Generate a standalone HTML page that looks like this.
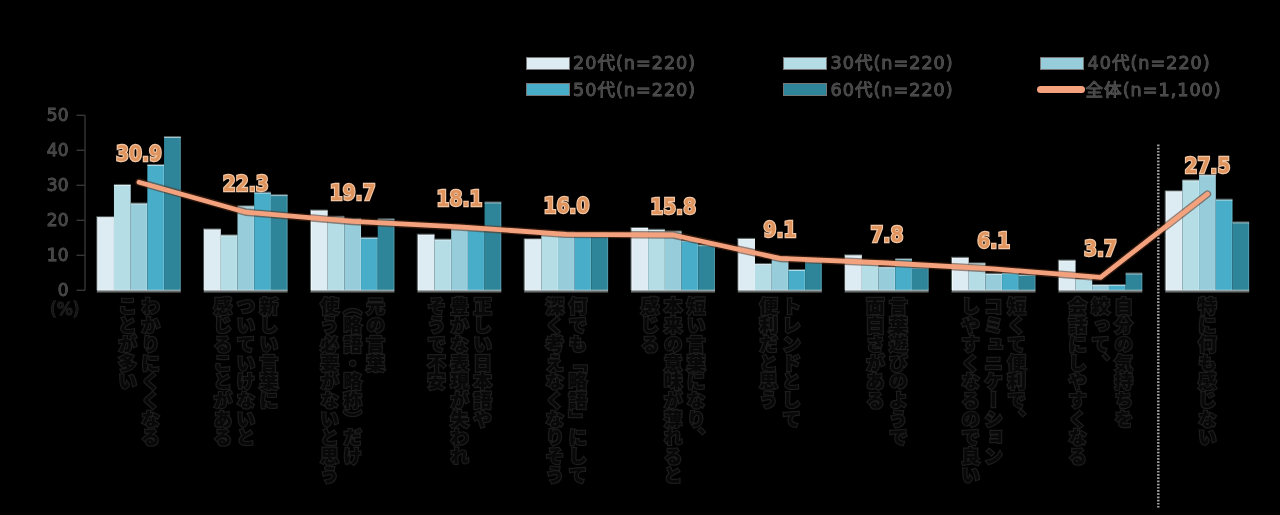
<!DOCTYPE html>
<html><head><meta charset="utf-8"><style>
html,body{margin:0;padding:0;background:#000;}
body{width:1280px;height:515px;position:relative;overflow:hidden;}
svg{position:absolute;left:0;top:0;}
.t{position:absolute;}
.yl{position:absolute;left:28.5px;width:40px;text-align:right;font:17px/22px "DejaVu Sans","Noto Sans CJK JP",sans-serif;color:#444;-webkit-text-stroke:0.9px #585858;paint-order:stroke fill;}
.pct{position:absolute;left:50px;top:298px;font:17px/22px "DejaVu Sans","Noto Sans CJK JP",sans-serif;color:#141414;-webkit-text-stroke:1.2px #282828;paint-order:stroke fill;}
.lt{position:absolute;letter-spacing:1px;font:17.6px/24px "DejaVu Sans","Noto Sans CJK JP",sans-serif;color:#474747;-webkit-text-stroke:0.9px #5c5c5c;paint-order:stroke fill;white-space:nowrap;}
.sw{position:absolute;width:44px;height:13px;box-sizing:border-box;border:1px solid #777;}
.lsw{position:absolute;width:48px;height:7px;border-radius:3.5px;background:#F4A27E;}
.vl{position:absolute;width:80px;text-align:center;font:bold 18.6px/22px "DejaVu Sans",sans-serif;color:#DF945E;-webkit-text-stroke:2.2px #F2C6A4;paint-order:stroke fill;transform:scaleY(1.1);}
.xl{position:absolute;top:297px;height:215px;writing-mode:vertical-rl;font:900 18.7px/23px "Liberation Sans","Noto Sans CJK JP",sans-serif;color:#080808;-webkit-text-stroke:2.4px #1d1d1d;paint-order:stroke fill;white-space:nowrap;filter:blur(0.3px);}
</style></head><body>
<svg width="1280" height="515" viewBox="0 0 1280 515">
<line x1="85" y1="115.3" x2="85" y2="290.3" stroke="#363636" stroke-width="1.4"/>
<line x1="76.5" y1="290.3" x2="85" y2="290.3" stroke="#363636" stroke-width="1.4"/>
<line x1="76.5" y1="255.3" x2="85" y2="255.3" stroke="#363636" stroke-width="1.4"/>
<line x1="76.5" y1="220.3" x2="85" y2="220.3" stroke="#363636" stroke-width="1.4"/>
<line x1="76.5" y1="185.3" x2="85" y2="185.3" stroke="#363636" stroke-width="1.4"/>
<line x1="76.5" y1="150.3" x2="85" y2="150.3" stroke="#363636" stroke-width="1.4"/>
<line x1="76.5" y1="115.3" x2="85" y2="115.3" stroke="#363636" stroke-width="1.4"/>
<rect x="97.25" y="217.15" width="16.70" height="73.15" fill="#DDEBF3"/>
<rect x="97.25" y="216.15" width="16.70" height="1" fill="rgba(110,125,125,0.75)"/>
<rect x="97.25" y="217.15" width="16.70" height="1" fill="rgba(255,255,255,0.55)"/>
<rect x="112.95" y="217.15" width="1" height="73.15" fill="rgba(255,255,255,0.18)"/>
<rect x="96.25" y="216.15" width="1" height="74.15" fill="rgba(110,125,125,0.75)"/>
<rect x="97.25" y="217.15" width="1" height="73.15" fill="rgba(255,255,255,0.6)"/>
<rect x="113.95" y="184.95" width="16.70" height="105.35" fill="#B4DDE6"/>
<rect x="113.95" y="183.95" width="16.70" height="1" fill="rgba(110,125,125,0.75)"/>
<rect x="113.95" y="184.95" width="16.70" height="1" fill="rgba(255,255,255,0.55)"/>
<rect x="129.65" y="184.95" width="1" height="105.35" fill="rgba(255,255,255,0.18)"/>
<rect x="130.65" y="203.50" width="16.70" height="86.80" fill="#97CCDB"/>
<rect x="130.65" y="202.50" width="16.70" height="1" fill="rgba(110,125,125,0.75)"/>
<rect x="130.65" y="203.50" width="16.70" height="1" fill="rgba(255,255,255,0.55)"/>
<rect x="146.35" y="203.50" width="1" height="86.80" fill="rgba(255,255,255,0.18)"/>
<rect x="147.35" y="165.00" width="16.70" height="125.30" fill="#47ADC8"/>
<rect x="147.35" y="164.00" width="16.70" height="1" fill="rgba(110,125,125,0.75)"/>
<rect x="147.35" y="165.00" width="16.70" height="1" fill="rgba(255,255,255,0.55)"/>
<rect x="163.05" y="165.00" width="1" height="125.30" fill="rgba(255,255,255,0.18)"/>
<rect x="164.05" y="137.00" width="16.70" height="153.30" fill="#2E8599"/>
<rect x="164.05" y="136.00" width="16.70" height="1" fill="rgba(110,125,125,0.75)"/>
<rect x="164.05" y="137.00" width="16.70" height="1" fill="rgba(255,255,255,0.55)"/>
<rect x="179.75" y="137.00" width="1" height="153.30" fill="rgba(255,255,255,0.18)"/>
<rect x="204.09" y="229.40" width="16.70" height="60.90" fill="#DDEBF3"/>
<rect x="204.09" y="228.40" width="16.70" height="1" fill="rgba(110,125,125,0.75)"/>
<rect x="204.09" y="229.40" width="16.70" height="1" fill="rgba(255,255,255,0.55)"/>
<rect x="219.79" y="229.40" width="1" height="60.90" fill="rgba(255,255,255,0.18)"/>
<rect x="203.09" y="228.40" width="1" height="61.90" fill="rgba(110,125,125,0.75)"/>
<rect x="204.09" y="229.40" width="1" height="60.90" fill="rgba(255,255,255,0.6)"/>
<rect x="220.79" y="235.35" width="16.70" height="54.95" fill="#B4DDE6"/>
<rect x="220.79" y="234.35" width="16.70" height="1" fill="rgba(110,125,125,0.75)"/>
<rect x="220.79" y="235.35" width="16.70" height="1" fill="rgba(255,255,255,0.55)"/>
<rect x="236.49" y="235.35" width="1" height="54.95" fill="rgba(255,255,255,0.18)"/>
<rect x="237.49" y="206.30" width="16.70" height="84.00" fill="#97CCDB"/>
<rect x="237.49" y="205.30" width="16.70" height="1" fill="rgba(110,125,125,0.75)"/>
<rect x="237.49" y="206.30" width="16.70" height="1" fill="rgba(255,255,255,0.55)"/>
<rect x="253.19" y="206.30" width="1" height="84.00" fill="rgba(255,255,255,0.18)"/>
<rect x="254.19" y="192.65" width="16.70" height="97.65" fill="#47ADC8"/>
<rect x="254.19" y="191.65" width="16.70" height="1" fill="rgba(110,125,125,0.75)"/>
<rect x="254.19" y="192.65" width="16.70" height="1" fill="rgba(255,255,255,0.55)"/>
<rect x="269.89" y="192.65" width="1" height="97.65" fill="rgba(255,255,255,0.18)"/>
<rect x="270.89" y="195.10" width="16.70" height="95.20" fill="#2E8599"/>
<rect x="270.89" y="194.10" width="16.70" height="1" fill="rgba(110,125,125,0.75)"/>
<rect x="270.89" y="195.10" width="16.70" height="1" fill="rgba(255,255,255,0.55)"/>
<rect x="286.59" y="195.10" width="1" height="95.20" fill="rgba(255,255,255,0.18)"/>
<rect x="310.93" y="210.50" width="16.70" height="79.80" fill="#DDEBF3"/>
<rect x="310.93" y="209.50" width="16.70" height="1" fill="rgba(110,125,125,0.75)"/>
<rect x="310.93" y="210.50" width="16.70" height="1" fill="rgba(255,255,255,0.55)"/>
<rect x="326.63" y="210.50" width="1" height="79.80" fill="rgba(255,255,255,0.18)"/>
<rect x="309.93" y="209.50" width="1" height="80.80" fill="rgba(110,125,125,0.75)"/>
<rect x="310.93" y="210.50" width="1" height="79.80" fill="rgba(255,255,255,0.6)"/>
<rect x="327.63" y="216.80" width="16.70" height="73.50" fill="#B4DDE6"/>
<rect x="327.63" y="215.80" width="16.70" height="1" fill="rgba(110,125,125,0.75)"/>
<rect x="327.63" y="216.80" width="16.70" height="1" fill="rgba(255,255,255,0.55)"/>
<rect x="343.33" y="216.80" width="1" height="73.50" fill="rgba(255,255,255,0.18)"/>
<rect x="344.33" y="218.90" width="16.70" height="71.40" fill="#97CCDB"/>
<rect x="344.33" y="217.90" width="16.70" height="1" fill="rgba(110,125,125,0.75)"/>
<rect x="344.33" y="218.90" width="16.70" height="1" fill="rgba(255,255,255,0.55)"/>
<rect x="360.03" y="218.90" width="1" height="71.40" fill="rgba(255,255,255,0.18)"/>
<rect x="361.03" y="237.80" width="16.70" height="52.50" fill="#47ADC8"/>
<rect x="361.03" y="236.80" width="16.70" height="1" fill="rgba(110,125,125,0.75)"/>
<rect x="361.03" y="237.80" width="16.70" height="1" fill="rgba(255,255,255,0.55)"/>
<rect x="376.73" y="237.80" width="1" height="52.50" fill="rgba(255,255,255,0.18)"/>
<rect x="377.73" y="219.25" width="16.70" height="71.05" fill="#2E8599"/>
<rect x="377.73" y="218.25" width="16.70" height="1" fill="rgba(110,125,125,0.75)"/>
<rect x="377.73" y="219.25" width="16.70" height="1" fill="rgba(255,255,255,0.55)"/>
<rect x="393.43" y="219.25" width="1" height="71.05" fill="rgba(255,255,255,0.18)"/>
<rect x="417.77" y="234.65" width="16.70" height="55.65" fill="#DDEBF3"/>
<rect x="417.77" y="233.65" width="16.70" height="1" fill="rgba(110,125,125,0.75)"/>
<rect x="417.77" y="234.65" width="16.70" height="1" fill="rgba(255,255,255,0.55)"/>
<rect x="433.47" y="234.65" width="1" height="55.65" fill="rgba(255,255,255,0.18)"/>
<rect x="416.77" y="233.65" width="1" height="56.65" fill="rgba(110,125,125,0.75)"/>
<rect x="417.77" y="234.65" width="1" height="55.65" fill="rgba(255,255,255,0.6)"/>
<rect x="434.47" y="239.55" width="16.70" height="50.75" fill="#B4DDE6"/>
<rect x="434.47" y="238.55" width="16.70" height="1" fill="rgba(110,125,125,0.75)"/>
<rect x="434.47" y="239.55" width="16.70" height="1" fill="rgba(255,255,255,0.55)"/>
<rect x="450.17" y="239.55" width="1" height="50.75" fill="rgba(255,255,255,0.18)"/>
<rect x="451.17" y="229.05" width="16.70" height="61.25" fill="#97CCDB"/>
<rect x="451.17" y="228.05" width="16.70" height="1" fill="rgba(110,125,125,0.75)"/>
<rect x="451.17" y="229.05" width="16.70" height="1" fill="rgba(255,255,255,0.55)"/>
<rect x="466.87" y="229.05" width="1" height="61.25" fill="rgba(255,255,255,0.18)"/>
<rect x="467.87" y="230.10" width="16.70" height="60.20" fill="#47ADC8"/>
<rect x="467.87" y="229.10" width="16.70" height="1" fill="rgba(110,125,125,0.75)"/>
<rect x="467.87" y="230.10" width="16.70" height="1" fill="rgba(255,255,255,0.55)"/>
<rect x="483.57" y="230.10" width="1" height="60.20" fill="rgba(255,255,255,0.18)"/>
<rect x="484.57" y="202.45" width="16.70" height="87.85" fill="#2E8599"/>
<rect x="484.57" y="201.45" width="16.70" height="1" fill="rgba(110,125,125,0.75)"/>
<rect x="484.57" y="202.45" width="16.70" height="1" fill="rgba(255,255,255,0.55)"/>
<rect x="500.27" y="202.45" width="1" height="87.85" fill="rgba(255,255,255,0.18)"/>
<rect x="524.61" y="239.20" width="16.70" height="51.10" fill="#DDEBF3"/>
<rect x="524.61" y="238.20" width="16.70" height="1" fill="rgba(110,125,125,0.75)"/>
<rect x="524.61" y="239.20" width="16.70" height="1" fill="rgba(255,255,255,0.55)"/>
<rect x="540.31" y="239.20" width="1" height="51.10" fill="rgba(255,255,255,0.18)"/>
<rect x="523.61" y="238.20" width="1" height="52.10" fill="rgba(110,125,125,0.75)"/>
<rect x="524.61" y="239.20" width="1" height="51.10" fill="rgba(255,255,255,0.6)"/>
<rect x="541.31" y="233.25" width="16.70" height="57.05" fill="#B4DDE6"/>
<rect x="541.31" y="232.25" width="16.70" height="1" fill="rgba(110,125,125,0.75)"/>
<rect x="541.31" y="233.25" width="16.70" height="1" fill="rgba(255,255,255,0.55)"/>
<rect x="557.01" y="233.25" width="1" height="57.05" fill="rgba(255,255,255,0.18)"/>
<rect x="558.01" y="232.55" width="16.70" height="57.75" fill="#97CCDB"/>
<rect x="558.01" y="231.55" width="16.70" height="1" fill="rgba(110,125,125,0.75)"/>
<rect x="558.01" y="232.55" width="16.70" height="1" fill="rgba(255,255,255,0.55)"/>
<rect x="573.71" y="232.55" width="1" height="57.75" fill="rgba(255,255,255,0.18)"/>
<rect x="574.71" y="233.25" width="16.70" height="57.05" fill="#47ADC8"/>
<rect x="574.71" y="232.25" width="16.70" height="1" fill="rgba(110,125,125,0.75)"/>
<rect x="574.71" y="233.25" width="16.70" height="1" fill="rgba(255,255,255,0.55)"/>
<rect x="590.41" y="233.25" width="1" height="57.05" fill="rgba(255,255,255,0.18)"/>
<rect x="591.41" y="233.25" width="16.70" height="57.05" fill="#2E8599"/>
<rect x="591.41" y="232.25" width="16.70" height="1" fill="rgba(110,125,125,0.75)"/>
<rect x="591.41" y="233.25" width="16.70" height="1" fill="rgba(255,255,255,0.55)"/>
<rect x="607.11" y="233.25" width="1" height="57.05" fill="rgba(255,255,255,0.18)"/>
<rect x="631.45" y="228.00" width="16.70" height="62.30" fill="#DDEBF3"/>
<rect x="631.45" y="227.00" width="16.70" height="1" fill="rgba(110,125,125,0.75)"/>
<rect x="631.45" y="228.00" width="16.70" height="1" fill="rgba(255,255,255,0.55)"/>
<rect x="647.15" y="228.00" width="1" height="62.30" fill="rgba(255,255,255,0.18)"/>
<rect x="630.45" y="227.00" width="1" height="63.30" fill="rgba(110,125,125,0.75)"/>
<rect x="631.45" y="228.00" width="1" height="62.30" fill="rgba(255,255,255,0.6)"/>
<rect x="648.15" y="229.75" width="16.70" height="60.55" fill="#B4DDE6"/>
<rect x="648.15" y="228.75" width="16.70" height="1" fill="rgba(110,125,125,0.75)"/>
<rect x="648.15" y="229.75" width="16.70" height="1" fill="rgba(255,255,255,0.55)"/>
<rect x="663.85" y="229.75" width="1" height="60.55" fill="rgba(255,255,255,0.18)"/>
<rect x="664.85" y="231.50" width="16.70" height="58.80" fill="#97CCDB"/>
<rect x="664.85" y="230.50" width="16.70" height="1" fill="rgba(110,125,125,0.75)"/>
<rect x="664.85" y="231.50" width="16.70" height="1" fill="rgba(255,255,255,0.55)"/>
<rect x="680.55" y="231.50" width="1" height="58.80" fill="rgba(255,255,255,0.18)"/>
<rect x="681.55" y="240.60" width="16.70" height="49.70" fill="#47ADC8"/>
<rect x="681.55" y="239.60" width="16.70" height="1" fill="rgba(110,125,125,0.75)"/>
<rect x="681.55" y="240.60" width="16.70" height="1" fill="rgba(255,255,255,0.55)"/>
<rect x="697.25" y="240.60" width="1" height="49.70" fill="rgba(255,255,255,0.18)"/>
<rect x="698.25" y="245.15" width="16.70" height="45.15" fill="#2E8599"/>
<rect x="698.25" y="244.15" width="16.70" height="1" fill="rgba(110,125,125,0.75)"/>
<rect x="698.25" y="245.15" width="16.70" height="1" fill="rgba(255,255,255,0.55)"/>
<rect x="713.95" y="245.15" width="1" height="45.15" fill="rgba(255,255,255,0.18)"/>
<rect x="738.29" y="238.85" width="16.70" height="51.45" fill="#DDEBF3"/>
<rect x="738.29" y="237.85" width="16.70" height="1" fill="rgba(110,125,125,0.75)"/>
<rect x="738.29" y="238.85" width="16.70" height="1" fill="rgba(255,255,255,0.55)"/>
<rect x="753.99" y="238.85" width="1" height="51.45" fill="rgba(255,255,255,0.18)"/>
<rect x="737.29" y="237.85" width="1" height="52.45" fill="rgba(110,125,125,0.75)"/>
<rect x="738.29" y="238.85" width="1" height="51.45" fill="rgba(255,255,255,0.6)"/>
<rect x="754.99" y="264.05" width="16.70" height="26.25" fill="#B4DDE6"/>
<rect x="754.99" y="263.05" width="16.70" height="1" fill="rgba(110,125,125,0.75)"/>
<rect x="754.99" y="264.05" width="16.70" height="1" fill="rgba(255,255,255,0.55)"/>
<rect x="770.69" y="264.05" width="1" height="26.25" fill="rgba(255,255,255,0.18)"/>
<rect x="771.69" y="257.05" width="16.70" height="33.25" fill="#97CCDB"/>
<rect x="771.69" y="256.05" width="16.70" height="1" fill="rgba(110,125,125,0.75)"/>
<rect x="771.69" y="257.05" width="16.70" height="1" fill="rgba(255,255,255,0.55)"/>
<rect x="787.39" y="257.05" width="1" height="33.25" fill="rgba(255,255,255,0.18)"/>
<rect x="788.39" y="270.00" width="16.70" height="20.30" fill="#47ADC8"/>
<rect x="788.39" y="269.00" width="16.70" height="1" fill="rgba(110,125,125,0.75)"/>
<rect x="788.39" y="270.00" width="16.70" height="1" fill="rgba(255,255,255,0.55)"/>
<rect x="804.09" y="270.00" width="1" height="20.30" fill="rgba(255,255,255,0.18)"/>
<rect x="805.09" y="261.95" width="16.70" height="28.35" fill="#2E8599"/>
<rect x="805.09" y="260.95" width="16.70" height="1" fill="rgba(110,125,125,0.75)"/>
<rect x="805.09" y="261.95" width="16.70" height="1" fill="rgba(255,255,255,0.55)"/>
<rect x="820.79" y="261.95" width="1" height="28.35" fill="rgba(255,255,255,0.18)"/>
<rect x="845.13" y="255.30" width="16.70" height="35.00" fill="#DDEBF3"/>
<rect x="845.13" y="254.30" width="16.70" height="1" fill="rgba(110,125,125,0.75)"/>
<rect x="845.13" y="255.30" width="16.70" height="1" fill="rgba(255,255,255,0.55)"/>
<rect x="860.83" y="255.30" width="1" height="35.00" fill="rgba(255,255,255,0.18)"/>
<rect x="844.13" y="254.30" width="1" height="36.00" fill="rgba(110,125,125,0.75)"/>
<rect x="845.13" y="255.30" width="1" height="35.00" fill="rgba(255,255,255,0.6)"/>
<rect x="861.83" y="262.30" width="16.70" height="28.00" fill="#B4DDE6"/>
<rect x="861.83" y="261.30" width="16.70" height="1" fill="rgba(110,125,125,0.75)"/>
<rect x="861.83" y="262.30" width="16.70" height="1" fill="rgba(255,255,255,0.55)"/>
<rect x="877.53" y="262.30" width="1" height="28.00" fill="rgba(255,255,255,0.18)"/>
<rect x="878.53" y="267.20" width="16.70" height="23.10" fill="#97CCDB"/>
<rect x="878.53" y="266.20" width="16.70" height="1" fill="rgba(110,125,125,0.75)"/>
<rect x="878.53" y="267.20" width="16.70" height="1" fill="rgba(255,255,255,0.55)"/>
<rect x="894.23" y="267.20" width="1" height="23.10" fill="rgba(255,255,255,0.18)"/>
<rect x="895.23" y="259.15" width="16.70" height="31.15" fill="#47ADC8"/>
<rect x="895.23" y="258.15" width="16.70" height="1" fill="rgba(110,125,125,0.75)"/>
<rect x="895.23" y="259.15" width="16.70" height="1" fill="rgba(255,255,255,0.55)"/>
<rect x="910.93" y="259.15" width="1" height="31.15" fill="rgba(255,255,255,0.18)"/>
<rect x="911.93" y="267.55" width="16.70" height="22.75" fill="#2E8599"/>
<rect x="911.93" y="266.55" width="16.70" height="1" fill="rgba(110,125,125,0.75)"/>
<rect x="911.93" y="267.55" width="16.70" height="1" fill="rgba(255,255,255,0.55)"/>
<rect x="927.63" y="267.55" width="1" height="22.75" fill="rgba(255,255,255,0.18)"/>
<rect x="951.97" y="257.75" width="16.70" height="32.55" fill="#DDEBF3"/>
<rect x="951.97" y="256.75" width="16.70" height="1" fill="rgba(110,125,125,0.75)"/>
<rect x="951.97" y="257.75" width="16.70" height="1" fill="rgba(255,255,255,0.55)"/>
<rect x="967.67" y="257.75" width="1" height="32.55" fill="rgba(255,255,255,0.18)"/>
<rect x="950.97" y="256.75" width="1" height="33.55" fill="rgba(110,125,125,0.75)"/>
<rect x="951.97" y="257.75" width="1" height="32.55" fill="rgba(255,255,255,0.6)"/>
<rect x="968.67" y="263.35" width="16.70" height="26.95" fill="#B4DDE6"/>
<rect x="968.67" y="262.35" width="16.70" height="1" fill="rgba(110,125,125,0.75)"/>
<rect x="968.67" y="263.35" width="16.70" height="1" fill="rgba(255,255,255,0.55)"/>
<rect x="984.37" y="263.35" width="1" height="26.95" fill="rgba(255,255,255,0.18)"/>
<rect x="985.37" y="273.85" width="16.70" height="16.45" fill="#97CCDB"/>
<rect x="985.37" y="272.85" width="16.70" height="1" fill="rgba(110,125,125,0.75)"/>
<rect x="985.37" y="273.85" width="16.70" height="1" fill="rgba(255,255,255,0.55)"/>
<rect x="1001.07" y="273.85" width="1" height="16.45" fill="rgba(255,255,255,0.18)"/>
<rect x="1002.07" y="273.15" width="16.70" height="17.15" fill="#47ADC8"/>
<rect x="1002.07" y="272.15" width="16.70" height="1" fill="rgba(110,125,125,0.75)"/>
<rect x="1002.07" y="273.15" width="16.70" height="1" fill="rgba(255,255,255,0.55)"/>
<rect x="1017.77" y="273.15" width="1" height="17.15" fill="rgba(255,255,255,0.18)"/>
<rect x="1018.77" y="274.90" width="16.70" height="15.40" fill="#2E8599"/>
<rect x="1018.77" y="273.90" width="16.70" height="1" fill="rgba(110,125,125,0.75)"/>
<rect x="1018.77" y="274.90" width="16.70" height="1" fill="rgba(255,255,255,0.55)"/>
<rect x="1034.47" y="274.90" width="1" height="15.40" fill="rgba(255,255,255,0.18)"/>
<rect x="1058.81" y="260.55" width="16.70" height="29.75" fill="#DDEBF3"/>
<rect x="1058.81" y="259.55" width="16.70" height="1" fill="rgba(110,125,125,0.75)"/>
<rect x="1058.81" y="260.55" width="16.70" height="1" fill="rgba(255,255,255,0.55)"/>
<rect x="1074.51" y="260.55" width="1" height="29.75" fill="rgba(255,255,255,0.18)"/>
<rect x="1057.81" y="259.55" width="1" height="30.75" fill="rgba(110,125,125,0.75)"/>
<rect x="1058.81" y="260.55" width="1" height="29.75" fill="rgba(255,255,255,0.6)"/>
<rect x="1075.51" y="279.10" width="16.70" height="11.20" fill="#B4DDE6"/>
<rect x="1075.51" y="278.10" width="16.70" height="1" fill="rgba(110,125,125,0.75)"/>
<rect x="1075.51" y="279.10" width="16.70" height="1" fill="rgba(255,255,255,0.55)"/>
<rect x="1091.21" y="279.10" width="1" height="11.20" fill="rgba(255,255,255,0.18)"/>
<rect x="1092.21" y="285.05" width="16.70" height="5.25" fill="#97CCDB"/>
<rect x="1092.21" y="284.05" width="16.70" height="1" fill="rgba(110,125,125,0.75)"/>
<rect x="1092.21" y="285.05" width="16.70" height="1" fill="rgba(255,255,255,0.55)"/>
<rect x="1107.91" y="285.05" width="1" height="5.25" fill="rgba(255,255,255,0.18)"/>
<rect x="1108.91" y="285.05" width="16.70" height="5.25" fill="#47ADC8"/>
<rect x="1108.91" y="284.05" width="16.70" height="1" fill="rgba(110,125,125,0.75)"/>
<rect x="1108.91" y="285.05" width="16.70" height="1" fill="rgba(255,255,255,0.55)"/>
<rect x="1124.61" y="285.05" width="1" height="5.25" fill="rgba(255,255,255,0.18)"/>
<rect x="1125.61" y="273.50" width="16.70" height="16.80" fill="#2E8599"/>
<rect x="1125.61" y="272.50" width="16.70" height="1" fill="rgba(110,125,125,0.75)"/>
<rect x="1125.61" y="273.50" width="16.70" height="1" fill="rgba(255,255,255,0.55)"/>
<rect x="1141.31" y="273.50" width="1" height="16.80" fill="rgba(255,255,255,0.18)"/>
<rect x="1165.65" y="191.25" width="16.70" height="99.05" fill="#DDEBF3"/>
<rect x="1165.65" y="190.25" width="16.70" height="1" fill="rgba(110,125,125,0.75)"/>
<rect x="1165.65" y="191.25" width="16.70" height="1" fill="rgba(255,255,255,0.55)"/>
<rect x="1181.35" y="191.25" width="1" height="99.05" fill="rgba(255,255,255,0.18)"/>
<rect x="1164.65" y="190.25" width="1" height="100.05" fill="rgba(110,125,125,0.75)"/>
<rect x="1165.65" y="191.25" width="1" height="99.05" fill="rgba(255,255,255,0.6)"/>
<rect x="1182.35" y="180.40" width="16.70" height="109.90" fill="#B4DDE6"/>
<rect x="1182.35" y="179.40" width="16.70" height="1" fill="rgba(110,125,125,0.75)"/>
<rect x="1182.35" y="180.40" width="16.70" height="1" fill="rgba(255,255,255,0.55)"/>
<rect x="1198.05" y="180.40" width="1" height="109.90" fill="rgba(255,255,255,0.18)"/>
<rect x="1199.05" y="175.15" width="16.70" height="115.15" fill="#97CCDB"/>
<rect x="1199.05" y="174.15" width="16.70" height="1" fill="rgba(110,125,125,0.75)"/>
<rect x="1199.05" y="175.15" width="16.70" height="1" fill="rgba(255,255,255,0.55)"/>
<rect x="1214.75" y="175.15" width="1" height="115.15" fill="rgba(255,255,255,0.18)"/>
<rect x="1215.75" y="199.65" width="16.70" height="90.65" fill="#47ADC8"/>
<rect x="1215.75" y="198.65" width="16.70" height="1" fill="rgba(110,125,125,0.75)"/>
<rect x="1215.75" y="199.65" width="16.70" height="1" fill="rgba(255,255,255,0.55)"/>
<rect x="1231.45" y="199.65" width="1" height="90.65" fill="rgba(255,255,255,0.18)"/>
<rect x="1232.45" y="222.40" width="16.70" height="67.90" fill="#2E8599"/>
<rect x="1232.45" y="221.40" width="16.70" height="1" fill="rgba(110,125,125,0.75)"/>
<rect x="1232.45" y="222.40" width="16.70" height="1" fill="rgba(255,255,255,0.55)"/>
<rect x="1248.15" y="222.40" width="1" height="67.90" fill="rgba(255,255,255,0.18)"/>
<rect x="97.2" y="289.7" width="83.5" height="1.4" fill="rgba(255,255,255,0.55)"/>
<rect x="96.8" y="291.1" width="84.0" height="1.4" fill="#6f7777"/>
<rect x="204.1" y="289.7" width="83.5" height="1.4" fill="rgba(255,255,255,0.55)"/>
<rect x="203.6" y="291.1" width="84.0" height="1.4" fill="#6f7777"/>
<rect x="310.9" y="289.7" width="83.5" height="1.4" fill="rgba(255,255,255,0.55)"/>
<rect x="310.4" y="291.1" width="84.0" height="1.4" fill="#6f7777"/>
<rect x="417.8" y="289.7" width="83.5" height="1.4" fill="rgba(255,255,255,0.55)"/>
<rect x="417.3" y="291.1" width="84.0" height="1.4" fill="#6f7777"/>
<rect x="524.6" y="289.7" width="83.5" height="1.4" fill="rgba(255,255,255,0.55)"/>
<rect x="524.1" y="291.1" width="84.0" height="1.4" fill="#6f7777"/>
<rect x="631.5" y="289.7" width="83.5" height="1.4" fill="rgba(255,255,255,0.55)"/>
<rect x="631.0" y="291.1" width="84.0" height="1.4" fill="#6f7777"/>
<rect x="738.3" y="289.7" width="83.5" height="1.4" fill="rgba(255,255,255,0.55)"/>
<rect x="737.8" y="291.1" width="84.0" height="1.4" fill="#6f7777"/>
<rect x="845.1" y="289.7" width="83.5" height="1.4" fill="rgba(255,255,255,0.55)"/>
<rect x="844.6" y="291.1" width="84.0" height="1.4" fill="#6f7777"/>
<rect x="952.0" y="289.7" width="83.5" height="1.4" fill="rgba(255,255,255,0.55)"/>
<rect x="951.5" y="291.1" width="84.0" height="1.4" fill="#6f7777"/>
<rect x="1058.8" y="289.7" width="83.5" height="1.4" fill="rgba(255,255,255,0.55)"/>
<rect x="1058.3" y="291.1" width="84.0" height="1.4" fill="#6f7777"/>
<rect x="1165.7" y="289.7" width="83.5" height="1.4" fill="rgba(255,255,255,0.55)"/>
<rect x="1165.2" y="291.1" width="84.0" height="1.4" fill="#6f7777"/>
<line x1="1158.3" y1="144.5" x2="1158.3" y2="507.5" stroke="#a4a4a4" stroke-width="2.4" stroke-dasharray="1.7 1.5"/>
<polyline points="139.0,182.2 245.8,212.2 352.7,221.4 459.5,226.9 566.4,234.3 673.2,235.0 780.0,258.4 886.9,263.0 993.7,268.9 1100.6,277.4 1207.4,194.1" fill="none" stroke="rgba(90,45,25,0.55)" stroke-width="7.5" stroke-linejoin="round" stroke-linecap="round"/>
<polyline points="139.0,182.2 245.8,212.2 352.7,221.4 459.5,226.9 566.4,234.3 673.2,235.0 780.0,258.4 886.9,263.0 993.7,268.9 1100.6,277.4 1207.4,194.1" fill="none" stroke="#F4A27E" stroke-width="4.8" stroke-linejoin="round" stroke-linecap="round"/>
</svg>
<div class="yl" style="top:279.3px">0</div>
<div class="yl" style="top:244.3px">10</div>
<div class="yl" style="top:209.3px">20</div>
<div class="yl" style="top:174.3px">30</div>
<div class="yl" style="top:139.3px">40</div>
<div class="yl" style="top:104.3px">50</div>
<div class="pct">(%)</div>
<div class="sw" style="left:525.5px;top:56.5px;background:#DDEBF3"></div>
<div class="lt" style="left:573.0px;top:51px">20代(n=220)</div>
<div class="sw" style="left:783px;top:56.5px;background:#B4DDE6"></div>
<div class="lt" style="left:830.5px;top:51px">30代(n=220)</div>
<div class="sw" style="left:1040px;top:56.5px;background:#97CCDB"></div>
<div class="lt" style="left:1087.5px;top:51px">40代(n=220)</div>
<div class="sw" style="left:525.5px;top:83.0px;background:#47ADC8"></div>
<div class="lt" style="left:573.0px;top:77.5px">50代(n=220)</div>
<div class="sw" style="left:783px;top:83.0px;background:#2E8599"></div>
<div class="lt" style="left:830.5px;top:77.5px">60代(n=220)</div>
<div class="lsw" style="left:1036.5px;top:86.0px"></div>
<div class="lt" style="left:1085.5px;top:77.5px">全体(n=1,100)</div>
<div class="xl" style="left:114.0px;width:46px">わかりにくくなる<br>ことが多い</div>
<div class="xl" style="left:209.3px;width:69px">新しい言葉に<br>ついていけないと<br>感じることがある</div>
<div class="xl" style="left:316.2px;width:69px">元の言葉<br>（略語・略称）だけ<br>使う必要がないと思う</div>
<div class="xl" style="left:423.0px;width:69px">正しい日本語や<br>豊かな表現が失われ<br>そうで不安</div>
<div class="xl" style="left:541.4px;width:46px">何でも「略語」にして<br>深く考えなくなりそう</div>
<div class="xl" style="left:636.7px;width:69px">短い言葉になり、<br>本来の意味が薄れると<br>感じる</div>
<div class="xl" style="left:755.0px;width:46px">トレンドとして<br>便利だと思う</div>
<div class="xl" style="left:861.9px;width:46px">言葉遊びのようで<br>面白さがある</div>
<div class="xl" style="left:957.2px;width:69px">短くて便利で、<br>コミュニケーション<br>しやすくなるので良い</div>
<div class="xl" style="left:1064.1px;width:69px">自分の気持ちを<br>絞って、<br>会話にしやすくなる</div>
<div class="xl" style="left:1193.9px;width:23px">特に何も感じない</div>
<div class="vl" style="left:99.0px;top:142.8px">30.9</div>
<div class="vl" style="left:205.8px;top:172.8px">22.3</div>
<div class="vl" style="left:312.7px;top:182.0px">19.7</div>
<div class="vl" style="left:419.5px;top:187.5px">18.1</div>
<div class="vl" style="left:526.4px;top:194.9px">16.0</div>
<div class="vl" style="left:633.2px;top:195.6px">15.8</div>
<div class="vl" style="left:740.0px;top:219.0px">9.1</div>
<div class="vl" style="left:846.9px;top:223.6px">7.8</div>
<div class="vl" style="left:953.7px;top:229.5px">6.1</div>
<div class="vl" style="left:1060.6px;top:238.0px">3.7</div>
<div class="vl" style="left:1167.4px;top:154.7px">27.5</div>
</body></html>
